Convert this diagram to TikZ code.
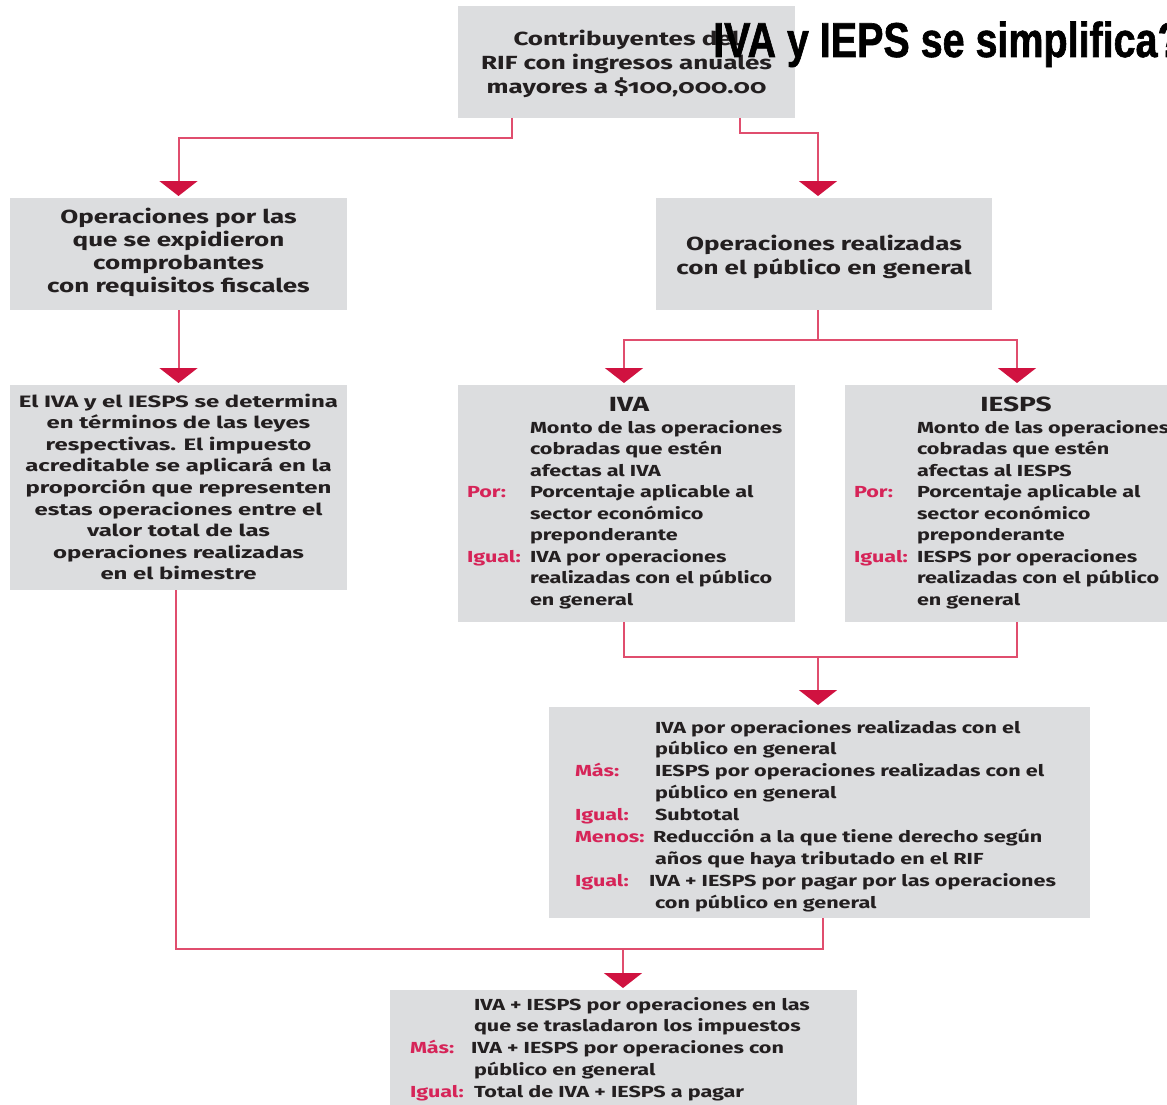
\documentclass[tikz,border=0pt]{standalone}
\usepackage{fontspec}
\setmainfont{Fira Sans}[Numbers=OldStyle, FakeStretch=1.35]
\newfontfamily\headfont{Fira Sans}[Numbers=OldStyle, FakeStretch=1.37]
\newfontfamily\wideL{Fira Sans}[Numbers=OldStyle, FakeStretch=1.45]
\newfontfamily\titlefont{Liberation Sans}[UprightFont={* Bold}, FakeStretch=0.805, FakeBold=1.2]
\usetikzlibrary{arrows.meta}
\definecolor{boxgray}{RGB}{220,221,223}
\definecolor{labred}{RGB}{214,36,88}
\definecolor{linered}{RGB}{224,78,110}
\definecolor{tipred}{RGB}{208,18,64}
\definecolor{ink}{RGB}{35,31,32}
\newcommand\lbl[2]{\makebox[#1][l]{\textcolor{labred}{#2}}}
\newcommand\ctab[1]{\begin{tabular}[t]{@{}c@{}}#1\end{tabular}}
\newcommand\ltab[1]{\begin{tabular}[t]{@{}l@{}}#1\end{tabular}}
\tikzset{
  box/.style={fill=boxgray, draw=none, inner sep=0pt, outer sep=0pt},
  conn/.style={draw=linered, line width=2pt},
  arr/.style={conn, -{Triangle[width=38pt,length=15pt,fill=tipred,color=tipred]}},
  head/.style={inner sep=0pt, outer sep=0pt, text=ink, anchor=base, font=\headfont\bfseries\fontsize{19}{24}\selectfont},
  boxtitle/.style={head, font=\headfont\bfseries\fontsize{20.5}{24}\selectfont},
  body/.style={inner sep=0pt, outer sep=0pt, text=ink, anchor=base west, font=\bfseries\fontsize{16}{21.6}\selectfont},
  bodyc/.style={body, anchor=base},
}
\begin{document}
\begin{tikzpicture}[x=1pt,y=-1pt]
\fill[white] (0,0) rectangle (1167,1105);
\useasboundingbox (0,0) rectangle (1167,1105);
% boxes
\node[box, minimum width=337pt, minimum height=112pt] (top) at (626.5,62) {};
\node[box, minimum width=337pt, minimum height=112pt] (L1) at (178.5,254) {};
\node[box, minimum width=336pt, minimum height=112pt] (R1) at (824,254) {};
\node[box, minimum width=337pt, minimum height=205pt] (L2) at (178.5,487.5) {};
\node[box, minimum width=337pt, minimum height=237pt] (IVA) at (626.5,503.5) {};
\node[box, minimum width=325pt, minimum height=237pt] (IESPS) at (1007.5,503.5) {};
\node[box, minimum width=541pt, minimum height=211pt] (Mid) at (819.5,812.5) {};
\node[box, minimum width=467pt, minimum height=120pt] (Bot) at (623.5,1050) {};
% texts
\node[head] (ttop) at (626.5,46) {\ctab{Contribuyentes del\\RIF con ingresos anuales\\mayores a \$100,000.00}};
\node[head, font=\headfont\bfseries\fontsize{19}{23.3}\selectfont] (tL1) at (178.5,223) {\ctab{Operaciones por las\\que se expidieron\\comprobantes\\con requisitos fiscales}};
\node[head] (tR1) at (824,250) {\ctab{Operaciones realizadas\\con el público en general}};
\node[bodyc, font=\wideL\bfseries\fontsize{16.5}{21.6}\selectfont] (tL2) at (178.5,407) {\ctab{El IVA y el IESPS se determina\\en términos de las leyes\\respectivas. El impuesto\\acreditable se aplicará en la\\proporción que representen\\estas operaciones entre el\\valor total de las\\operaciones realizadas\\en el bimestre}};
\node[boxtitle] (hIVA) at (629,411) {IVA};
\node[body, font=\bfseries\fontsize{16}{21.5}\selectfont] (tIVA) at (467,433) {\ltab{%
\lbl{63pt}{}Monto de las operaciones\\
\lbl{63pt}{}cobradas que estén\\
\lbl{63pt}{}afectas al IVA\\
\lbl{63pt}{Por:}Porcentaje aplicable al\\
\lbl{63pt}{}sector económico\\
\lbl{63pt}{}preponderante\\
\lbl{63pt}{Igual:}IVA por operaciones\\
\lbl{63pt}{}realizadas con el público\\
\lbl{63pt}{}en general}};
\node[boxtitle] (hIESPS) at (1016,411) {IESPS};
\node[body, font=\bfseries\fontsize{16}{21.5}\selectfont] (tIESPS) at (854,433) {\ltab{%
\lbl{63pt}{}Monto de las operaciones\\
\lbl{63pt}{}cobradas que estén\\
\lbl{63pt}{}afectas al IESPS\\
\lbl{63pt}{Por:}Porcentaje aplicable al\\
\lbl{63pt}{}sector económico\\
\lbl{63pt}{}preponderante\\
\lbl{63pt}{Igual:}IESPS por operaciones\\
\lbl{63pt}{}realizadas con el público\\
\lbl{63pt}{}en general}};
\node[body, font=\bfseries\fontsize{16}{21.9}\selectfont] (tMid) at (575,733) {\ltab{%
\lbl{80pt}{}IVA por operaciones realizadas con el\\
\lbl{80pt}{}público en general\\
\lbl{80pt}{Más:}IESPS por operaciones realizadas con el\\
\lbl{80pt}{}público en general\\
\lbl{80pt}{Igual:}Subtotal\\
\lbl{78pt}{Menos:}Reducción a la que tiene derecho según\\
\lbl{80pt}{}años que haya tributado en el RIF\\
\lbl{74pt}{Igual:}IVA + IESPS por pagar por las operaciones\\
\lbl{80pt}{}con público en general}};
\node[body, font=\bfseries\fontsize{16}{21.8}\selectfont] (tBot) at (410,1010) {\ltab{%
\lbl{64pt}{}IVA + IESPS por operaciones en las\\
\lbl{64pt}{}que se trasladaron los impuestos\\
\lbl{61pt}{Más:}IVA + IESPS por operaciones con\\
\lbl{64pt}{}público en general\\
\lbl{64pt}{Igual:}Total de IVA + IESPS a pagar}};
% title
\node[anchor=base west, inner sep=0pt, text=black, font=\titlefont\fontsize{49}{49}\selectfont] (title) at (713,57) {IVA y IEPS se simplifica?};
% connectors
\draw[arr] ([xshift=-114.5pt]top.south) -- ++(0,20) -| ([yshift=2pt]L1.north);
\draw[arr] ([xshift=113.5pt]top.south) -- ++(0,15) -| ([xshift=-6pt,yshift=2pt]R1.north);
\draw[arr] (L1.south) -- ([yshift=2pt]L2.north);
\draw[conn] ([xshift=-6pt]R1.south) -- ++(0,30) coordinate (j1);
\draw[arr] (j1) -| ([xshift=-2.5pt,yshift=2pt]IVA.north);
\draw[arr] (j1) -| ([xshift=9.5pt,yshift=2pt]IESPS.north);
\draw[conn] ([xshift=-2.5pt]IVA.south) -- ++(0,35) -| ([xshift=9.5pt]IESPS.south);
\coordinate (j2) at (818,657);
\draw[arr] (j2) -- ([xshift=-1.5pt,yshift=2pt]Mid.north);
\draw[conn] ([xshift=-2.5pt]L2.south) -- ++(0,359) -| ([xshift=3.5pt]Mid.south);
\coordinate (j3) at (623,949);
\draw[arr] (j3) -- ([xshift=-0.5pt,yshift=2pt]Bot.north);
\end{tikzpicture}
\end{document}
